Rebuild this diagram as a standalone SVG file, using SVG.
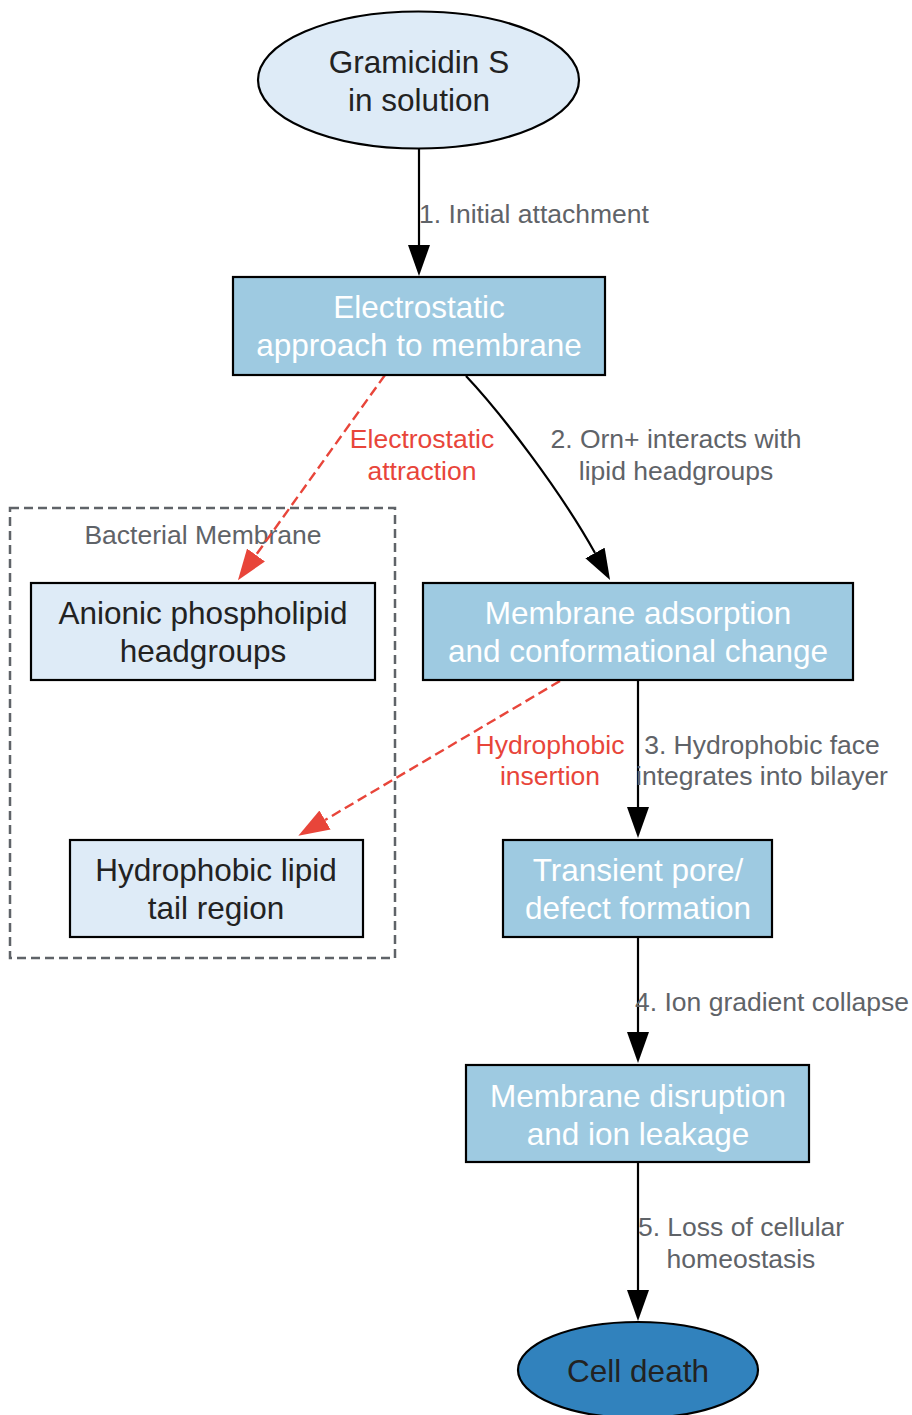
<svg xmlns="http://www.w3.org/2000/svg" width="912" height="1415" viewBox="0 0 912 1415">
<style>
text{font-family:"Liberation Sans",Arial,sans-serif}
.nt{font-size:31.5px;text-anchor:middle;fill:#222}
.wt{font-size:31.5px;text-anchor:middle;fill:#fff}
.el{font-size:26.5px;fill:#5f6368}
.rl{font-size:26.5px;fill:#e8453a;text-anchor:middle}
.dark{fill:#9ecae1;stroke:#000;stroke-width:2.2}
.light{fill:#deebf7;stroke:#000;stroke-width:2.2}
.e{fill:none;stroke:#000;stroke-width:2.2}
.r{fill:none;stroke:#e8453a;stroke-width:2.4;stroke-dasharray:10,5}
</style>
<defs>
<marker id="ab" viewBox="0 0 31 22" refX="0" refY="11" markerWidth="31" markerHeight="22" markerUnits="userSpaceOnUse" orient="auto"><path d="M0,0 L31,11 L0,22 z" fill="#000"/></marker>
<marker id="ar" viewBox="0 0 31 22" refX="0" refY="11" markerWidth="31" markerHeight="22" markerUnits="userSpaceOnUse" orient="auto"><path d="M0,0 L31,11 L0,22 z" fill="#e8453a"/></marker>
</defs>
<g id="cluster_membrane">
<rect x="10" y="508" width="385" height="450" fill="none" stroke="#5f6368" stroke-width="2.5" stroke-dasharray="9,5"/>
<text x="203" y="544" class="el" text-anchor="middle">Bacterial Membrane</text>
</g>
<g id="connectors">
<path class="e" d="M419,149 L419,245" marker-end="url(#ab)"/>
<text class="el" x="534" y="223" text-anchor="middle">1. Initial attachment</text>
<path class="e" d="M466,376 C500,412 560,490 595,553" marker-end="url(#ab)"/>
<text class="el" x="676" y="448" text-anchor="middle">2. Orn+ interacts with</text>
<text class="el" x="676" y="480" text-anchor="middle">lipid headgroups</text>
<path class="r" d="M385,375 L256,555" marker-end="url(#ar)"/>
<text class="rl" x="422" y="448">Electrostatic</text>
<text class="rl" x="422" y="480">attraction</text>
<path class="r" d="M560,681 L325,820" marker-end="url(#ar)"/>
<text class="rl" x="550" y="754">Hydrophobic</text>
<text class="rl" x="550" y="785">insertion</text>
<path class="e" d="M638,681 L638,807" marker-end="url(#ab)"/>
<text class="el" x="762" y="754" text-anchor="middle">3. Hydrophobic face</text>
<text class="el" x="762" y="785" text-anchor="middle">integrates into bilayer</text>
<path class="e" d="M638,937 L638,1032" marker-end="url(#ab)"/>
<text class="el" x="772" y="1011" text-anchor="middle">4. Ion gradient collapse</text>
<path class="e" d="M638,1162 L638,1290" marker-end="url(#ab)"/>
<text class="el" x="741" y="1236" text-anchor="middle">5. Loss of cellular</text>
<text class="el" x="741" y="1268" text-anchor="middle">homeostasis</text>
</g>
<g id="gramicidin">
<ellipse cx="418.5" cy="80" rx="160.5" ry="68.5" fill="#deebf7" stroke="#000" stroke-width="2.2"/>
<text class="nt" x="419" y="73">Gramicidin S</text>
<text class="nt" x="419" y="111">in solution</text>
</g>
<g id="electrostatic">
<rect class="dark" x="233" y="277" width="372" height="98"/>
<text class="wt" x="419" y="318">Electrostatic</text>
<text class="wt" x="419" y="356">approach to membrane</text>
</g>
<g id="anionic">
<rect class="light" x="31" y="583" width="344" height="97"/>
<text class="nt" x="203" y="624">Anionic phospholipid</text>
<text class="nt" x="203" y="662">headgroups</text>
</g>
<g id="adsorption">
<rect class="dark" x="423" y="583" width="430" height="97"/>
<text class="wt" x="638" y="624">Membrane adsorption</text>
<text class="wt" x="638" y="662">and conformational change</text>
</g>
<g id="tail">
<rect class="light" x="70" y="840" width="293" height="97"/>
<text class="nt" x="216" y="881">Hydrophobic lipid</text>
<text class="nt" x="216" y="919">tail region</text>
</g>
<g id="pore">
<rect class="dark" x="503" y="840" width="269" height="97"/>
<text class="wt" x="638" y="881">Transient pore/</text>
<text class="wt" x="638" y="919">defect formation</text>
</g>
<g id="disruption">
<rect class="dark" x="466" y="1065" width="343" height="97"/>
<text class="wt" x="638" y="1107">Membrane disruption</text>
<text class="wt" x="638" y="1145">and ion leakage</text>
</g>
<g id="death">
<ellipse cx="638" cy="1370" rx="120" ry="48" fill="#3182bd" stroke="#000" stroke-width="2.2"/>
<text class="nt" x="638" y="1382">Cell death</text>
</g>
</svg>
